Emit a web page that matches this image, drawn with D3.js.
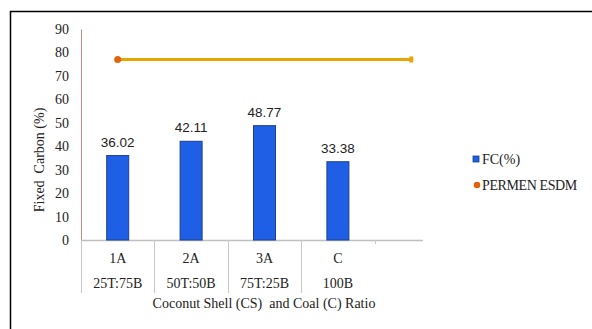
<!DOCTYPE html>
<html>
<head>
<meta charset="utf-8">
<script src="https://cdn.jsdelivr.net/npm/d3@7"></script>
<style>
  body { margin: 0; background: #fff; }
</style>
</head>
<body>
<div id="graph"></div>
<script>
// The data...
var codes    = [ '1A', '2A', '3A', 'C', '' ];
var ratios   = [ '25T:75B', '50T:50B', '75T:25B', '100B', '' ];
var fcValues = [ 36.02, 42.11, 48.77, 33.38 ];
var permen   = [ 77, 77, 77, 77, 77 ];
var yTicks   = [ 0, 10, 20, 30, 40, 50, 60, 70, 80, 90 ];

var SERIF = "'Liberation Serif', 'Times New Roman', serif";
var SANS  = "'Liberation Sans', Arial, sans-serif";

var W = 592, H = 329;
var plot = { left: 81, right: 448, top: 29, bottom: 240 };

var svg = d3.select ('#graph').append ('svg')
            .attr ('width', W)
            .attr ('height', H);

// outer frame (only top and left edges visible)
svg.append ('path')
   .attr ('d', 'M10.5,' + H + ' V11.5 H' + W)
   .attr ('fill', 'none')
   .attr ('stroke', '#000')
   .attr ('stroke-width', 1.5);

var xScale = d3.scaleBand ()
               .domain (d3.range (codes.length))
               .range ([ plot.left, plot.right ]);

var yScale = d3.scaleLinear ()
               .domain ([ 0, 90 ])
               .range ([ plot.bottom, plot.top ]);

// helper for serif text
function label (sel, size)
{
    return sel.style ('font-family', SERIF)
              .style ('font-size', (size || 14) + 'px')
              .attr ('fill', '#222');
}

// y axis
var yAxis = d3.axisLeft (yScale)
              .tickValues (yTicks)
              .tickSize (0)
              .tickPadding (12);

var gy = svg.append ('g')
            .attr ('transform', 'translate(' + plot.left + ',0)')
            .call (yAxis);
gy.select ('.domain').attr ('stroke', '#c98a80');
label (gy.selectAll ('text'), 14);

// category axis
var axisEnd = 423;
svg.append ('line')
   .attr ('x1', plot.left).attr ('x2', axisEnd)
   .attr ('y1', plot.bottom + 0.5).attr ('y2', plot.bottom + 0.5)
   .attr ('stroke', '#bfbfbf').attr ('stroke-width', 1.5);

for (var i = 0; i <= codes.length; i++)
{
    var xx = (i < codes.length ? xScale (i) : plot.right);
    if (xx > axisEnd) continue;
    var len = (i >= 4 ? 4 : 53);
    svg.append ('line')
       .attr ('x1', Math.round (xx) + 0.5).attr ('x2', Math.round (xx) + 0.5)
       .attr ('y1', plot.bottom).attr ('y2', plot.bottom + len)
       .attr ('stroke', '#c8c8c8').attr ('stroke-width', 1);
}

label (svg.append ('g').selectAll ('text')
   .data (codes)
   .enter ()
   .append ('text')
   .attr ('x', function (d, i) { return xScale (i) + xScale.bandwidth () / 2; })
   .attr ('y', 263)
   .attr ('text-anchor', 'middle')
   .text (function (d) { return d; }), 14);

label (svg.append ('g').selectAll ('text')
   .data (ratios)
   .enter ()
   .append ('text')
   .attr ('x', function (d, i) { return xScale (i) + xScale.bandwidth () / 2; })
   .attr ('y', 288)
   .attr ('text-anchor', 'middle')
   .text (function (d) { return d; }), 14);

// bars
var barWidth = 22;
svg.append ('g').selectAll ('rect')
   .data (fcValues)
   .enter ()
   .append ('rect')
   .attr ('x', function (d, i) { return xScale (i) + (xScale.bandwidth () - barWidth) / 2; })
   .attr ('y', function (d) { return yScale (d); })
   .attr ('width', barWidth)
   .attr ('height', function (d) { return yScale (0) - yScale (d); })
   .attr ('fill', '#1f5fe6')
   .attr ('stroke', '#1d3f8f')
   .attr ('stroke-width', 1);

svg.append ('g').selectAll ('text')
   .data (fcValues)
   .enter ()
   .append ('text')
   .attr ('x', function (d, i) { return xScale (i) + xScale.bandwidth () / 2; })
   .attr ('y', function (d) { return yScale (d) - 9; })
   .attr ('text-anchor', 'middle')
   .style ('font-family', SANS)
   .style ('font-size', '13.5px')
   .attr ('fill', '#222')
   .text (function (d) { return d.toFixed (2); });

// PERMEN ESDM line
var line = d3.line ()
             .x (function (d, i) { return xScale (i) + xScale.bandwidth () / 2; })
             .y (function (d) { return yScale (d); });

svg.append ('path')
   .datum (permen)
   .attr ('d', line)
   .attr ('fill', 'none')
   .attr ('stroke', '#e8a400')
   .attr ('stroke-width', 3);

var last = permen.length - 1;
svg.append ('rect')
   .attr ('x', xScale (last) + xScale.bandwidth () / 2 - 2)
   .attr ('y', yScale (permen[last]) - 3)
   .attr ('width', 4).attr ('height', 6)
   .attr ('fill', '#e8a400');

svg.append ('circle')
   .attr ('cx', xScale (0) + xScale.bandwidth () / 2)
   .attr ('cy', yScale (permen[0]))
   .attr ('r', 3.5)
   .attr ('fill', '#e2620e');

// axis titles
label (svg.append ('text')
   .attr ('transform', 'translate(44,160) rotate(-90)')
   .attr ('text-anchor', 'middle')
   .style ('white-space', 'pre')
   .text ('Fixed  Carbon (%)'), 14);

label (svg.append ('text')
   .attr ('x', 264)
   .attr ('y', 308)
   .attr ('text-anchor', 'middle')
   .style ('white-space', 'pre')
   .text ('Coconut Shell (CS)  and Coal (C) Ratio'), 14);

// legend
svg.append ('rect')
   .attr ('x', 473).attr ('y', 156)
   .attr ('width', 6).attr ('height', 6)
   .attr ('fill', '#1f5fe6').attr ('stroke', '#1d3f8f').attr ('stroke-width', 0.8);
label (svg.append ('text')
   .attr ('x', 482).attr ('y', 164)
   .text ('FC(%)'), 14);

svg.append ('circle')
   .attr ('cx', 477).attr ('cy', 185)
   .attr ('r', 3.3)
   .attr ('fill', '#e2620e');
label (svg.append ('text')
   .attr ('x', 482).attr ('y', 190)
   .style ('letter-spacing', '-0.4px')
   .text ('PERMEN ESDM'), 14);
</script>
</body>
</html>
